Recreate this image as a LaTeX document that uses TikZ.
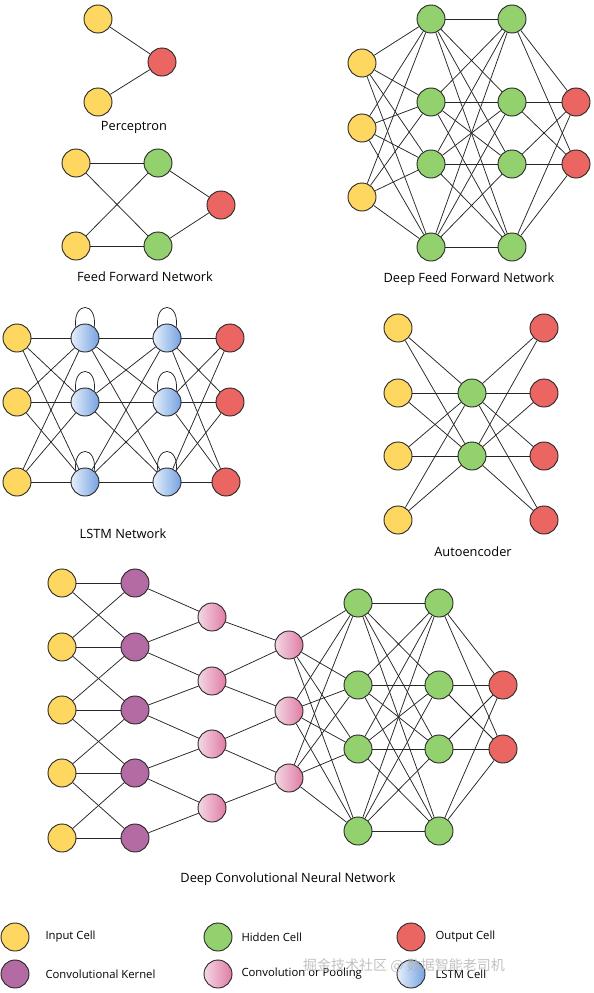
\documentclass[tikz,border=0pt]{standalone}
\usepackage{fontspec}
\setmainfont{Open Sans}
\newfontfamily\cjk{Noto Sans CJK SC}
\definecolor{inY}{HTML}{FED761}
\definecolor{hidG}{HTML}{93D16F}
\definecolor{outR}{HTML}{EB6662}
\definecolor{kernP}{HTML}{B46BA3}
\definecolor{poolL}{HTML}{F3D8E5}
\definecolor{poolR}{HTML}{E07BA4}
\definecolor{lstmL}{HTML}{E6EFFB}
\definecolor{lstmR}{HTML}{76A3E2}
\begin{document}
\begin{tikzpicture}[x=1pt,y=-1pt,
  cell/.style={circle, draw=black!85, line width=0.9pt, minimum size=28pt, inner sep=0pt},
  inp/.style={cell, fill=inY},
  hid/.style={cell, fill=hidG},
  outc/.style={cell, fill=outR},
  kern/.style={cell, fill=kernP},
  pool/.style={cell, left color=poolL, right color=poolR},
  lstm/.style={cell, left color=lstmL, right color=lstmR},
  edge/.style={line width=0.75pt, black!85},
  lbl/.style={font=\fontsize{12.8}{15}\selectfont, text=black},
  leg/.style={font=\fontsize{11.3}{14}\selectfont, text=black, anchor=west}]
\useasboundingbox (0,0) rectangle (594,993);
\fill[white] (0,0) rectangle (594,993);

% ---------- Perceptron ----------
\node[inp] (pa) at (98,19) {};
\node[inp] (pb) at (98,102) {};
\node[outc] (pc) at (162,62) {};
\draw[edge] (pa)--(pc) (pb)--(pc);
\node[lbl] (pt) at (134,127) {Perceptron};

% ---------- Feed Forward ----------
\node[inp] (fa1) at (76,163) {};
\node[inp] (fa2) at (76,246) {};
\node[hid] (fb1) at (158,163) {};
\node[hid] (fb2) at (158,246) {};
\node[outc] (fc) at (221,205) {};
\foreach \i in {1,2}{\foreach \j in {1,2}{\draw[edge] (fa\i)--(fb\j);}
  \draw[edge] (fb\i)--(fc);}
\node[lbl] (ft) at (145,277) {Feed Forward Network};

% ---------- Deep Feed Forward ----------
\foreach \y [count=\i] in {63,128,197}{\node[inp] (da\i) at (362,\y) {};}
\foreach \y [count=\i] in {19,102,164,247}{
  \node[hid] (db\i) at (431,\y) {};
  \node[hid] (dc\i) at (512,\y) {};}
\foreach \y [count=\i] in {102,164}{\node[outc] (dd\i) at (576,\y) {};}
\foreach \i in {1,2,3}{\foreach \j in {1,...,4}{\draw[edge] (da\i)--(db\j);}}
\foreach \i in {1,...,4}{\foreach \j in {1,...,4}{\draw[edge] (db\i)--(dc\j);}}
\foreach \i in {1,...,4}{\foreach \j in {1,2}{\draw[edge] (dc\i)--(dd\j);}}
\node[lbl] (dt) at (469,279) {Deep Feed Forward Network};

% ---------- LSTM ----------
\foreach \y [count=\i] in {338,402,482}{
  \node[inp] (la\i) at (17,\y) {};
  \node[lstm] (lb\i) at (85,\y) {};
  \node[lstm] (lc\i) at (167,\y) {};}
\node[outc] (ld1) at (230,338) {};
\node[outc] (ld2) at (230,402) {};
\node[outc] (ld3) at (226,482) {};
\foreach \i in {1,2,3}{\foreach \j in {1,2,3}{
  \draw[edge] (la\i)--(lb\j);
  \draw[edge] (lb\i)--(lc\j);
  \draw[edge] (lc\i)--(ld\j);}}
\foreach \n in {lb1,lb2,lb3,lc1,lc2,lc3}{
  \draw[edge] (\n.130) .. controls +(-3,-26) and +(3,-26) .. (\n.50);}
\node[lbl] (lt) at (123,534) {LSTM Network};

% ---------- Autoencoder ----------
\foreach \y [count=\i] in {328,393,456,520}{
  \node[inp] (aa\i) at (398,\y) {};
  \node[outc] (ac\i) at (544,\y) {};}
\node[hid] (ab1) at (472,393) {};
\node[hid] (ab2) at (472,456) {};
\foreach \i in {1,...,4}{\foreach \j in {1,2}{
  \draw[edge] (aa\i)--(ab\j);
  \draw[edge] (ab\j)--(ac\i);}}
\node[lbl] (at) at (473,552) {Autoencoder};

% ---------- Deep Convolutional ----------
\foreach \y [count=\i] in {583,647,710,773,838}{
  \node[inp] (ca\i) at (62,\y) {};
  \node[kern] (cb\i) at (135,\y) {};}
\foreach \y [count=\i] in {617,681,744,808}{\node[pool] (cc\i) at (212,\y) {};}
\foreach \y [count=\i] in {645,711,778}{\node[pool] (cd\i) at (289,\y) {};}
\foreach \y [count=\i] in {603,685,749,831}{
  \node[hid] (ce\i) at (358,\y) {};
  \node[hid] (cf\i) at (439,\y) {};}
\node[outc] (cg1) at (503,685) {};
\node[outc] (cg2) at (503,749) {};
% input -> kernel (3-wide)
\foreach \i in {1,...,5}{\draw[edge] (ca\i)--(cb\i);}
\foreach \i/\j in {1/2,2/3,3/4,4/5}{\draw[edge] (ca\i)--(cb\j); \draw[edge] (ca\j)--(cb\i);}
% kernel -> pool1
\foreach \i/\j in {1/1,2/1,2/2,3/2,3/3,4/3,4/4,5/4}{\draw[edge] (cb\i)--(cc\j);}
% pool1 -> pool2
\foreach \i/\j in {1/1,2/1,2/2,3/2,3/3,4/3}{\draw[edge] (cc\i)--(cd\j);}
\foreach \i in {1,2,3}{\foreach \j in {1,...,4}{\draw[edge] (cd\i)--(ce\j);}}
\foreach \i in {1,...,4}{\foreach \j in {1,...,4}{\draw[edge] (ce\i)--(cf\j);}}
\foreach \i in {1,...,4}{\foreach \j in {1,2}{\draw[edge] (cf\i)--(cg\j);}}
\node[lbl] (ct) at (288,879) {Deep Convolutional Neural Network};

% ---------- Legend ----------
\node[inp]  (k1) at (15,937) {};
\node[kern] (k2) at (15,974) {};
\node[hid]  (k3) at (218,937) {};
\node[pool] (k4) at (218,974) {};
\node[outc] (k5) at (411,937) {};
\node[lstm] (k6) at (411,974) {};
\node[leg] (t1) at (42,937) {Input Cell};
\node[leg] (t2) at (42,974) {Convolutional Kernel};
\node[leg] (t3) at (238,937) {Hidden Cell};
\node[leg] (t4) at (238,974) {Convolution or Pooling};
\node[leg] (t5) at (432,937) {Output Cell};
\node[leg] (t6) at (432,974) {LSTM Cell};

% watermark
\node[font=\cjk\fontsize{14}{16}\selectfont, text=black!30, opacity=0.8] (wm) at (404,966) {掘金技术社区 @ 数据智能老司机};
\end{tikzpicture}
\end{document}
